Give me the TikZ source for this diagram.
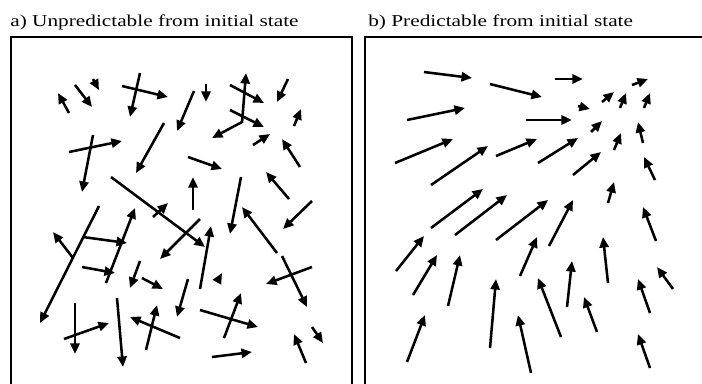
\documentclass[tikz,border=0pt]{standalone}
\usepackage{fontspec}
\setmainfont{Liberation Serif}
\newfontfamily\capfont[FakeStretch=1.28]{Liberation Serif}
\usetikzlibrary{arrows.meta}
\tikzset{
  vec/.style={-{Triangle[length=6pt,width=5.2pt]},line width=1.45pt},
  panel/.style={draw,line width=1.6pt},
  caption/.style={anchor=base west,inner sep=0pt,font={\capfont\fontsize{9.46pt}{11pt}\selectfont}},
}

\begin{document}
\begin{tikzpicture}[x=0.02cm,y=-0.02cm]
  \clip (0,0) rectangle (702,383);
  \node[caption] (ta) at (10,26) {a) Unpredictable from initial state};
  \node[caption] (tb) at (368,26) {b) Predictable from initial state};
  \draw[panel] (11,37) rectangle (352,400);
  \draw[panel] (365,37) rectangle (720,400);
  % random field
  \foreach \xa/\ya/\xb/\yb in {69/113/58/93, 75/85/92/107, 93/79/99/90, 122/86/168/97,
    140/73/130/117, 164/123/136/173, 69/152/122/141, 93/135/82/192, 111/177/205/247,
    194/91/177/131, 206/84/206/102, 242/123/246/73, 230/85/264/103, 230/110/264/127,
    242/122/212/138, 288/79/277/102, 294/126/301/109, 253/145/270/134, 300/167/282/139,
    188/157/222/169, 193/210/193/177, 241/177/230/234, 289/199/266/172, 277/253/242/207,
    312/201/283/229, 200/219/160/259, 200/289/211/226, 217/282/222/273, 188/279/177/317,
    312/267/266/284, 282/256/307/307, 200/310/258/327, 224/338/241/293, 312/327/323/343,
    306/363/294/334, 212/357/252/352, 99/206/40/323, 73/258/53/232, 83/237/127/243,
    106/283/135/208, 82/267/115/273, 153/217/168/203, 140/261/130/288, 142/278/163/289,
    75/303/75/354, 64/339/109/323, 117/298/123/367, 180/338/130/317, 146/350/157/305}
    \draw[vec] (\xa,\ya) -- (\xb,\yb);
  % converging field
  \foreach \xa/\ya/\xb/\yb in {424/72/472/78, 490/84/542/97, 407/120/465/108, 395/163/453/139,
    431/185/488/146, 496/156/537/139, 526/120/572/120, 555/79/583/79, 578/106/590/109,
    632/85/648/79, 602/102/614/92, 620/108/626/93, 644/108/650/93, 591/132/602/121,
    538/163/578/138, 614/150/621/133, 643/143/638/122, 573/175/601/152, 655/180/644/157,
    608/203/614/182, 431/228/483/189, 455/235/507/195, 496/240/548/200, 549/246/573/200,
    520/276/537/237, 608/283/603/237, 567/307/572/261, 448/306/460/255, 490/348/496/279,
    561/337/538/278, 396/271/424/236, 413/295/437/255, 407/362/425/315, 531/373/518/315,
    656/241/643/207, 597/332/584/297, 650/313/638/279, 673/289/657/267, 650/368/638/334}
    \draw[vec] (\xa,\ya) -- (\xb,\yb);
\end{tikzpicture}
\end{document}
